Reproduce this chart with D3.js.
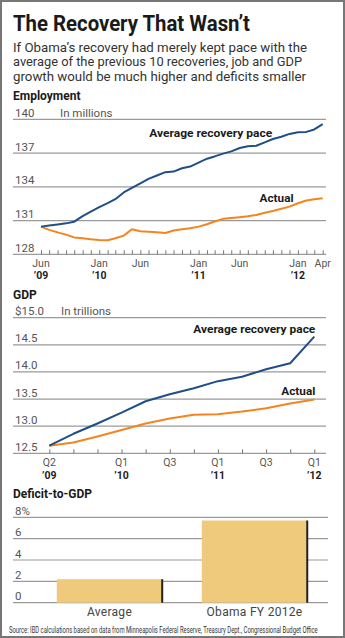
<!DOCTYPE html>
<html lang="en">
<head>
<meta charset="UTF-8">
<title>The Recovery That Wasn't</title>
<script src="https://cdn.jsdelivr.net/npm/d3@7"></script>
<style>
  body { margin: 0; background: #fff; }
  svg { display: block; font-family: Roboto, "DejaVu Sans", sans-serif; }
  .grid { stroke: #9a9a9a; stroke-width: 1.2; }
  .ylab { fill: #555; font-size: 11.5px; }
  .xlab { fill: #555; font-size: 10.5px; text-anchor: middle; }
  .xlab .yr { fill: #222; font-weight: bold; }
  .head { fill: #1a1a1a; font-size: 12px; font-weight: bold; }
  .note { fill: #1a1a1a; font-size: 11.5px; font-weight: bold; }
  .axis path { display: none; }
  .axis line { stroke: #777; }
</style>
</head>
<body>
<svg id="chart" width="345" height="638"></svg>
<script>
// employment, millions, monthly Jun '09 .. Apr '12
const empAverage = [130.46, 130.55, 130.65, 130.75, 130.9, 131.4, 131.8, 132.2, 132.55, 132.9,
  133.5, 133.9, 134.3, 134.7, 135.0, 135.3, 135.35, 135.65, 135.8, 136.15,
  136.5, 136.7, 136.95, 137.15, 137.45, 137.6, 137.65, 137.95, 138.25, 138.45,
  138.7, 138.85, 138.88, 139.1, 139.57];
const empActual = [130.46, 130.17, 129.95, 129.75, 129.5, 129.42, 129.34, 129.28, 129.25, 129.42,
  129.66, 130.23, 130.05, 130.0, 129.95, 129.9, 130.11, 130.23, 130.31, 130.46,
  130.67, 130.91, 131.15, 131.23, 131.3, 131.38, 131.5, 131.7, 131.85, 132.05,
  132.24, 132.54, 132.78, 132.9, 132.99];
const empTicks = [128, 131, 134, 137, 140];
const empXLabels = [
  { date: new Date(2009, 5, 1), month: "Jun", year: "’09" },
  { date: new Date(2010, 0, 1), month: "Jan", year: "’10" },
  { date: new Date(2010, 5, 1), month: "Jun", year: "" },
  { date: new Date(2011, 0, 1), month: "Jan", year: "’11" },
  { date: new Date(2011, 5, 1), month: "Jun", year: "" },
  { date: new Date(2012, 0, 1), month: "Jan", year: "’12" },
  { date: new Date(2012, 3, 1), month: "Apr", year: "" }
];

// GDP, trillions, quarterly Q2 '09 .. Q1 '12
const gdpQuarters = ["Q2", "Q3", "Q4", "Q1", "Q2", "Q3", "Q4", "Q1", "Q2", "Q3", "Q4", "Q1"];
const gdpYears = ["’09", "", "", "’10", "", "", "", "’11", "", "", "", "’12"];
const gdpShown = [true, false, false, true, false, true, false, true, false, true, false, true];
const gdpAverage = [12.64, 12.86, 13.05, 13.25, 13.46, 13.59, 13.70, 13.83, 13.91, 14.05, 14.16, 14.65];
const gdpActual = [12.64, 12.70, 12.81, 12.93, 13.05, 13.14, 13.21, 13.22, 13.27, 13.33, 13.42, 13.49];
const gdpTicks = [12.5, 13.0, 13.5, 14.0, 14.5, 15.0];

// deficit-to-GDP, percent
const defCategories = ["Average", "Obama FY 2012e"];
const defValues = [2.2, 7.7];
const defTicks = [0, 2, 4, 6, 8];

const blue = "#1f4f86", orange = "#f5841f", sand = "#f0ca7c";

const svg = d3.select("#chart");

svg.append("rect")
  .attr("x", 1).attr("y", 1).attr("width", 343).attr("height", 636)
  .attr("fill", "none").attr("stroke", "#777").attr("stroke-width", 2);

// header
svg.append("text").attr("x", 13).attr("y", 31)
  .attr("textLength", 237).attr("lengthAdjust", "spacingAndGlyphs")
  .style("font-size", "22px").style("font-weight", "bold").style("fill", "#1a1a1a")
  .text("The Recovery That Wasn’t");

const sub = [
  ["If Obama’s recovery had merely kept pace with the", 294],
  ["average of the previous 10 recoveries, job and GDP", 289],
  ["growth would be much higher and deficits smaller", 293]
];
sub.forEach(function (s, i) {
  svg.append("text").attr("x", 13).attr("y", 51.5 + i * 14.5)
    .attr("textLength", s[1]).attr("lengthAdjust", "spacingAndGlyphs")
    .style("font-size", "13.5px").style("fill", "#333")
    .text(s[0]);
});

function grid(g, y, ticks, fmt, x1, x2) {
  g.selectAll("line.grid").data(ticks).enter().append("line")
    .attr("class", "grid")
    .attr("x1", x1).attr("x2", x2)
    .attr("y1", d => y(d)).attr("y2", d => y(d));
  g.selectAll("text.ylab").data(ticks).enter().append("text")
    .attr("class", "ylab")
    .attr("x", 15).attr("y", d => y(d) - 2.5)
    .text(fmt);
}

// month / quarter on one line, year in bold under it
function xLabels(g, data, xpos, top, lab, yr) {
  const t = g.selectAll("text.xlab").data(data).enter().append("text")
    .attr("class", "xlab").attr("x", xpos).attr("y", top);
  t.append("tspan").text(lab);
  t.append("tspan").attr("class", "yr").attr("x", xpos).attr("dy", 12.3).text(yr);
}

// ---------- Employment ----------
const emp = svg.append("g");
const months = d3.timeMonth.range(new Date(2009, 5, 1), new Date(2012, 4, 1));
const xE = d3.scaleTime().domain([months[0], months[months.length - 1]]).range([41, 322.7]);
const yE = d3.scaleLinear().domain([128, 140]).range([254.3, 119.3]);

emp.append("text").attr("class", "head").attr("x", 13).attr("y", 100).text("Employment");
grid(emp, yE, empTicks, d => d, 13, 326);
emp.append("text").attr("class", "ylab").attr("x", 60).attr("y", yE(140) - 2.5).text("In millions");

emp.append("g").attr("class", "axis")
  .attr("transform", `translate(0,${yE(128)})`)
  .call(d3.axisBottom(xE).tickValues(months).tickSize(-4).tickFormat(""));

xLabels(emp, empXLabels, d => xE(d.date), 266.8, d => d.month, d => d.year);

const lineE = d3.line().x((d, i) => xE(months[i])).y(d => yE(d));
[[empActual, orange], [empAverage, blue]].forEach(function (s) {
  emp.append("path").datum(s[0])
    .attr("d", lineE).attr("fill", "none")
    .attr("stroke", s[1]).attr("stroke-width", 2).attr("stroke-linejoin", "round");
});

emp.append("text").attr("class", "note")
  .attr("x", xE(new Date(2010, 6, 4))).attr("y", yE(138.47))
  .attr("textLength", 123).attr("lengthAdjust", "spacingAndGlyphs")
  .text("Average recovery pace");
emp.append("text").attr("class", "note")
  .attr("x", xE(new Date(2011, 7, 13))).attr("y", yE(132.69))
  .attr("textLength", 34).attr("lengthAdjust", "spacingAndGlyphs")
  .text("Actual");

// ---------- GDP ----------
const gdp = svg.append("g");
const qIdx = d3.range(gdpQuarters.length);
const xG = d3.scaleLinear().domain([0, gdpQuarters.length - 1]).range([49.3, 314.3]);
const yG = d3.scaleLinear().domain([12.5, 15.0]).range([453.3, 317.7]);

gdp.append("text").attr("class", "head").attr("x", 13).attr("y", 299).text("GDP");
grid(gdp, yG, gdpTicks, d => (d === 15 ? "$" : "") + d3.format(".1f")(d), 13, 326);
gdp.append("text").attr("class", "ylab").attr("x", 61).attr("y", yG(15) - 2.5).text("In trillions");

gdp.append("g").attr("class", "axis")
  .attr("transform", `translate(0,${yG(12.5)})`)
  .call(d3.axisBottom(xG).tickValues(qIdx).tickSize(-4).tickFormat(""));

xLabels(gdp, qIdx.filter(i => gdpShown[i]), d => xG(d), 466.3, d => gdpQuarters[d], d => gdpYears[d]);

const lineG = d3.line().x((d, i) => xG(i)).y(d => yG(d));
[[gdpActual, orange], [gdpAverage, blue]].forEach(function (s) {
  gdp.append("path").datum(s[0])
    .attr("d", lineG).attr("fill", "none")
    .attr("stroke", s[1]).attr("stroke-width", 2).attr("stroke-linejoin", "round");
});

gdp.append("text").attr("class", "note").attr("text-anchor", "end")
  .attr("x", xG(11) + 1).attr("y", yG(14.72))
  .attr("textLength", 122).attr("lengthAdjust", "spacingAndGlyphs")
  .text("Average recovery pace");
gdp.append("text").attr("class", "note").attr("text-anchor", "end")
  .attr("x", xG(11) + 1).attr("y", yG(13.575))
  .attr("textLength", 34).attr("lengthAdjust", "spacingAndGlyphs")
  .text("Actual");

// ---------- Deficit-to-GDP ----------
const def = svg.append("g");
const xD = d3.scaleBand().domain(defCategories).range([35, 329]).paddingInner(0.273).paddingOuter(0.15);
const yD = d3.scaleLinear().domain([0, 8]).range([602.7, 517.3]);

def.append("text").attr("class", "head").attr("x", 13).attr("y", 497.5).text("Deficit-to-GDP");
grid(def, yD, defTicks, d => d === 8 ? "8%" : d, 13, 328);

def.selectAll("rect.bar").data(defValues).enter().append("rect")
  .attr("class", "bar")
  .attr("x", (d, i) => xD(defCategories[i]))
  .attr("y", d => yD(d))
  .attr("width", xD.bandwidth())
  .attr("height", d => yD(0) - yD(d))
  .attr("fill", sand);
def.selectAll("line.edge").data(defValues).enter().append("line")
  .attr("class", "edge")
  .attr("x1", (d, i) => xD(defCategories[i]) + xD.bandwidth())
  .attr("x2", (d, i) => xD(defCategories[i]) + xD.bandwidth())
  .attr("y1", d => yD(d)).attr("y2", yD(0))
  .attr("stroke", "#222").attr("stroke-width", 2);

def.selectAll("text.cat").data(defCategories).enter().append("text")
  .attr("x", d => xD(d) + xD.bandwidth() / 2).attr("y", 616)
  .attr("text-anchor", "middle")
  .style("font-size", "12px").style("fill", "#444").style("letter-spacing", "0.3px")
  .text(d => d);

// source line squeezed to the frame width
const src = svg.append("text")
  .style("font-size", "8.5px").style("fill", "#333")
  .text("Source: IBD calculations based on data from Minneapolis Federal Reserve, Treasury Dept., Congressional Budget Office");
const sx = 309 / src.node().getComputedTextLength();
src.attr("transform", `translate(9,633) scale(${sx},1)`);
</script>
</body>
</html>
